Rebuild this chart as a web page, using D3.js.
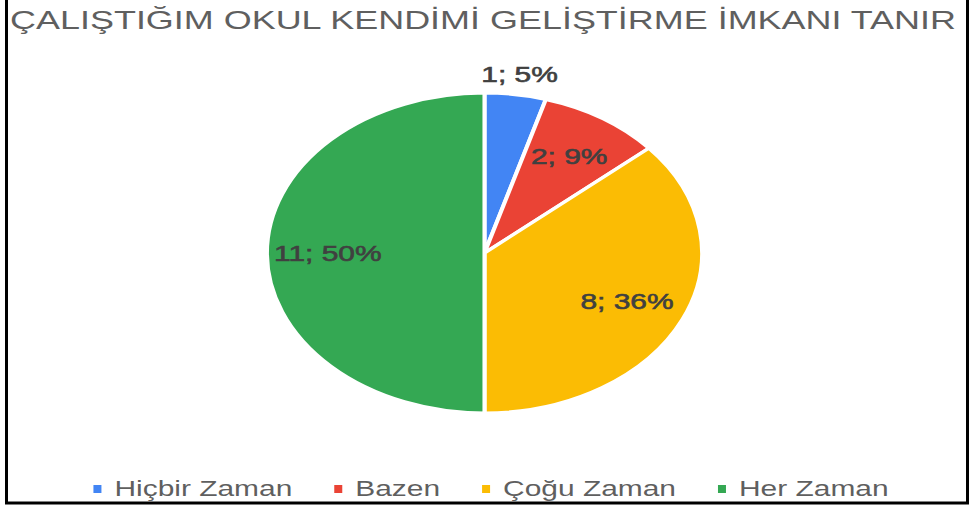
<!DOCTYPE html>
<html>
<head>
<meta charset="utf-8">
<script src="https://cdn.jsdelivr.net/npm/d3@7"></script>
<style>
body { margin: 0; background: #fff; }
svg { display: block; }
text { font-family: "Liberation Sans", Arial, sans-serif; }
</style>
</head>
<body>
<div id="chart"></div>
<script>
// chart data
var title = "ÇALIŞTIĞIM OKUL KENDİMİ GELİŞTİRME İMKANI TANIR";
var categories = ["Hiçbir Zaman", "Bazen", "Çoğu Zaman", "Her Zaman"];
var values = [1, 2, 8, 11];
var colors = ["#4285F4", "#EA4335", "#FBBC04", "#34A853"];

var W = 971, H = 506;
var sx = 1.36;             // the picture is stretched sideways
var cx = 484.5, cy = 253, R = 160;

var svg = d3.select("#chart").append("svg")
    .attr("width", W)
    .attr("height", H);

// frame
svg.append("rect")
    .attr("x", 6.5).attr("y", -5)
    .attr("width", 961).attr("height", 508)
    .attr("fill", "none")
    .attr("stroke", "#000")
    .attr("stroke-width", 3);

// title
svg.append("text")
    .attr("transform", "translate(483,29) scale(" + (sx * 1.017) + ",1)")
    .attr("text-anchor", "middle")
    .attr("font-size", 26)
    .attr("fill", "#5f5f5f")
    .text(title);

var total = d3.sum(values);
var pie = d3.pie().sort(null).value(function(d) { return d; });
var arcs = pie(values);
var arc = d3.arc().innerRadius(0).outerRadius(R);

var g = svg.append("g")
    .attr("transform", "translate(" + cx + "," + cy + ") scale(" + sx + ",1)");

g.selectAll("path")
    .data(arcs)
  .enter().append("path")
    .attr("d", arc)
    .attr("fill", function(d, i) { return colors[i]; })
    .attr("stroke", "#fff")
    .attr("stroke-width", 3);

// labels
svg.selectAll("text.lbl")
    .data(arcs)
  .enter().append("text")
    .attr("class", "lbl")
    .attr("transform", function(d) {
        var mid = (d.startAngle + d.endAngle) / 2;
        var r = (d.endAngle - d.startAngle) < 0.4 ? 1.13 : 0.72;
        var x = cx + sx * R * r * Math.sin(mid);
        var y = cy - R * r * Math.cos(mid);
        return "translate(" + x + "," + y + ") scale(" + sx + ",1)";
    })
    .attr("dy", "0.36em")
    .attr("text-anchor", "middle")
    .attr("font-size", 22)
    .attr("fill", "#404040")
    .attr("stroke", "#404040")
    .attr("stroke-width", 0.6)
    .text(function(d) { return d.data + "; " + Math.round(d.data / total * 100) + "%"; });

// legend
var leg = svg.append("g");
var items = leg.selectAll("g")
    .data(categories)
  .enter().append("g");

items.append("rect")
    .attr("width", 8).attr("height", 8)
    .attr("y", -11)
    .attr("fill", function(d, i) { return colors[i]; });

items.append("text")
    .attr("transform", "translate(21,0) scale(" + sx + ",1)")
    .attr("font-size", 22)
    .attr("fill", "#5f5f5f")
    .text(function(d) { return d; });

var gap = 42, xpos = 0, widths = [];
items.each(function() {
    var w = 21 + d3.select(this).select("text").node().getComputedTextLength() * sx;
    widths.push(w);
});
var totalW = d3.sum(widths) + gap * (widths.length - 1);
xpos = 491 - totalW / 2;
items.attr("transform", function(d, i) {
    var t = "translate(" + xpos + ",496)";
    xpos += widths[i] + gap;
    return t;
});
</script>
</body>
</html>
